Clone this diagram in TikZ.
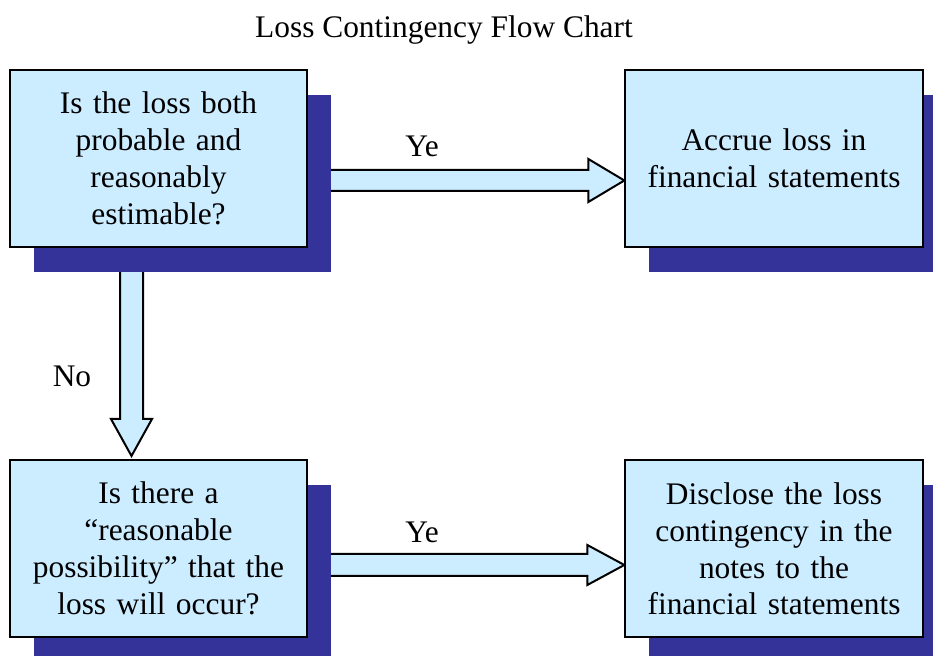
\documentclass[tikz,border=0pt]{standalone}
\usepackage{fontspec}
\setmainfont{Liberation Serif}
\usetikzlibrary{calc,shadows,backgrounds}

\definecolor{boxblue}{RGB}{204,236,255}
\definecolor{shadeblue}{RGB}{51,51,153}

\begin{document}
\begin{tikzpicture}[
  x=0.5pt, y=-0.5pt,
  every node/.style={font=\fontsize{15.7}{18.4}\selectfont},
  box/.style={draw=black,line width=1pt,fill=boxblue,align=center,
              text width=142pt,minimum width=147.5pt,minimum height=88.5pt,
              drop shadow={shadow xshift=12pt,shadow yshift=-12.5pt,
                           fill=shadeblue,opacity=1}},
  fat/.style={draw=black,line width=1pt,fill=boxblue,line join=miter}
]
\useasboundingbox (0,0) rectangle (933,656);
\clip (0,0) rectangle (933,656);

\node[anchor=base] (title) at (444,38) {Loss Contingency Flow Chart};

\node[box] (probable) at (158.5,158.5) {Is the loss both\\probable and\\reasonably\\estimable?};
\node[box] (accrue) at (774,158.5) {Accrue loss in\\financial statements};
\node[box] (possible) at (158.5,548.5) {Is there a\\“reasonable\\possibility” that the\\loss will occur?};
\node[box] (disclose) at (774,549) {Disclose the loss\\contingency in the\\notes to the\\financial statements};

\node[anchor=base] (yes1) at (422,157) {Ye};
\node[anchor=base] (yes2) at (422,543) {Ye};
\node[anchor=base] (no) at (72,387) {No};

% block arrows, kept under the boxes and their shadows
\begin{scope}[on background layer]
\draw[fat] ($(probable.center)+(0,11.5)$) -- ($(accrue.west)+(-36,11.5)$)
  -- ($(accrue.west)+(-36,0.5)$) -- ($(accrue.west)+(0,22)$)
  -- ($(accrue.west)+(-36,43.5)$) -- ($(accrue.west)+(-36,32.5)$)
  -- ($(probable.center)+(0,32.5)$);
\draw[fat] ($(possible.center)+(0,5.5)$) -- ($(disclose.west)+(-37,5)$)
  -- ($(disclose.west)+(-37,-4)$) -- ($(disclose.west)+(0,16)$)
  -- ($(disclose.west)+(-37,36)$) -- ($(disclose.west)+(-37,27)$)
  -- ($(possible.center)+(0,27.5)$);
\draw[fat] ($(probable.center)+(-38.5,0)$) -- ($(possible.north)+(-38.5,-40)$)
  -- ($(possible.north)+(-47.5,-40)$) -- ($(possible.north)+(-27,-3)$)
  -- ($(possible.north)+(-6.5,-40)$) -- ($(possible.north)+(-15.5,-40)$)
  -- ($(probable.center)+(-15.5,0)$);
\end{scope}
\end{tikzpicture}
\end{document}
